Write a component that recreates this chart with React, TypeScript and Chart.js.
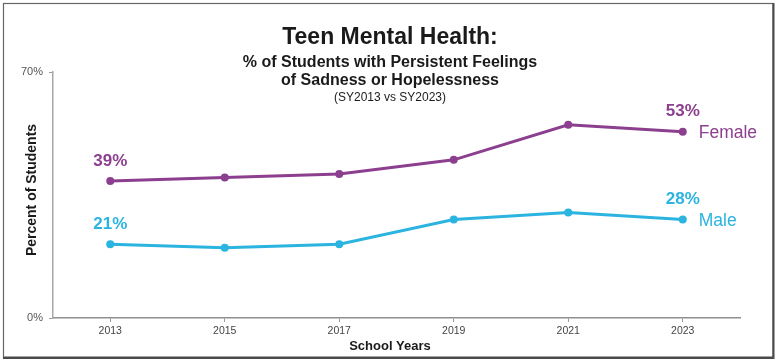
import React, { useEffect, useRef } from "react";
import { Chart, registerables } from "chart.js";

Chart.register(...registerables);

const years = ["2013", "2015", "2017", "2019", "2021", "2023"];
const femaleValues = [39, 40, 41, 45, 55, 53];
const maleValues = [21, 20, 21, 28, 30, 28];
const seriesNames = ["Female", "Male"];
const yTicks = [0, 70];
const titleText = "Teen Mental Health:";
const subtitleLines = ["% of Students with Persistent Feelings", "of Sadness or Hopelessness"];
const noteText = "(SY2013 vs SY2023)";
const yTitle = "Percent of Students";
const xTitle = "School Years";

const PURPLE = "#8c3f8e";
const CYAN = "#2bb4e0";
const FONT = "Arial, 'Liberation Sans', Helvetica, sans-serif";

const decorPlugin = {
  id: "decor",
  afterDraw(chart: any) {
    const ctx = chart.ctx;
    ctx.save();
    // frame (thin left/top, heavier right/bottom)
    ctx.strokeStyle = "#666";
    ctx.lineWidth = 1.2;
    ctx.strokeRect(3.5, 3.5, 769.5, 353.5);
    ctx.strokeStyle = "#4a4a4a";
    ctx.lineWidth = 2;
    ctx.beginPath();
    ctx.moveTo(773.5, 3);
    ctx.lineTo(773.5, 358);
    ctx.lineTo(3, 358);
    ctx.stroke();

    // titles
    ctx.fillStyle = "#1a1a1a";
    ctx.textAlign = "center";
    ctx.textBaseline = "alphabetic";
    const cx = 390;
    ctx.font = `bold 23px ${FONT}`;
    ctx.fillText(titleText, cx, 43.5);
    ctx.font = `bold 16px ${FONT}`;
    ctx.fillText(subtitleLines[0], cx, 66.5);
    ctx.fillText(subtitleLines[1], cx, 85);
    ctx.font = `12px ${FONT}`;
    ctx.fillText(noteText, cx, 100.5);

    // axis titles
    ctx.font = `bold 13px ${FONT}`;
    ctx.textBaseline = "middle";
    ctx.fillText(xTitle, 390, 346);
    ctx.save();
    ctx.translate(32, 190);
    ctx.rotate(-Math.PI / 2);
    ctx.font = `bold 14px ${FONT}`;
    ctx.fillText(yTitle, 0, 0);
    ctx.restore();

    // data labels
    chart.data.datasets.forEach((ds: any, i: number) => {
      const meta = chart.getDatasetMeta(i);
      const pts = meta.data;
      const color = ds.borderColor;
      ctx.fillStyle = color;
      ctx.textAlign = "center";
      ctx.textBaseline = "middle";
      ctx.font = `bold 17px ${FONT}`;
      const idxs = [0, pts.length - 1];
      idxs.forEach((k) => {
        const p = pts[k];
        ctx.fillText(ds.data[k] + "%", p.x, p.y - 20);
      });
      const last = pts[pts.length - 1];
      ctx.textAlign = "left";
      ctx.font = `17.5px ${FONT}`;
      ctx.fillText(seriesNames[i], last.x + 16, last.y + 1.5);
    });
    ctx.restore();
  },
};

export default function App() {
  const ref = useRef<HTMLCanvasElement | null>(null);
  useEffect(() => {
    if (!ref.current) return;
    const chart = new Chart(ref.current, {
      type: "line",
      data: {
        labels: years,
        datasets: [
          {
            label: seriesNames[0],
            data: femaleValues,
            borderColor: PURPLE,
            backgroundColor: PURPLE,
            borderWidth: 3,
            pointRadius: 4,
            pointBackgroundColor: PURPLE,
            pointBorderWidth: 0,
            tension: 0,
          },
          {
            label: seriesNames[1],
            data: maleValues,
            borderColor: CYAN,
            backgroundColor: CYAN,
            borderWidth: 3,
            pointRadius: 4,
            pointBackgroundColor: CYAN,
            pointBorderWidth: 0,
            tension: 0,
          },
        ],
      },
      options: {
        responsive: false,
        animation: false,
        layout: { padding: { left: 0, right: 37, top: 72, bottom: 0 } },
        plugins: {
          legend: { display: false },
          tooltip: { enabled: false },
          title: { display: false },
        },
        scales: {
          x: {
            type: "category",
            offset: true,
            afterFit: (s: any) => {
              s.height = 44;
            },
            grid: {
              offset: false,
              drawOnChartArea: false,
              drawTicks: true,
              tickLength: 4,
              color: "#9a9a9a",
            },
            border: { display: true, color: "#8f8f8f", width: 1.5 },
            ticks: {
              padding: 3,
              color: "#444",
              font: { family: FONT, size: 10.5 },
              maxRotation: 0,
            },
          },
          y: {
            min: 0,
            max: 70,
            afterFit: (s: any) => {
              s.width = 53;
            },
            afterBuildTicks: (s: any) => {
              s.ticks = yTicks.map((v) => ({ value: v }));
            },
            grid: {
              drawOnChartArea: false,
              drawTicks: true,
              tickLength: 4,
              color: "#9a9a9a",
            },
            border: { display: true, color: "#a8a8a8", width: 1.5 },
            ticks: {
              padding: 6,
              color: "#555",
              font: { family: FONT, size: 11 },
              callback: (v: any) => v + "%",
            },
          },
        },
      },
      plugins: [decorPlugin],
    });
    return () => chart.destroy();
  }, []);
  return (
    <div style={{ position: "fixed", left: 0, top: 0, width: 777, height: 362, background: "#fff" }}>
      <canvas ref={ref} width={777} height={362} />
    </div>
  );
}
